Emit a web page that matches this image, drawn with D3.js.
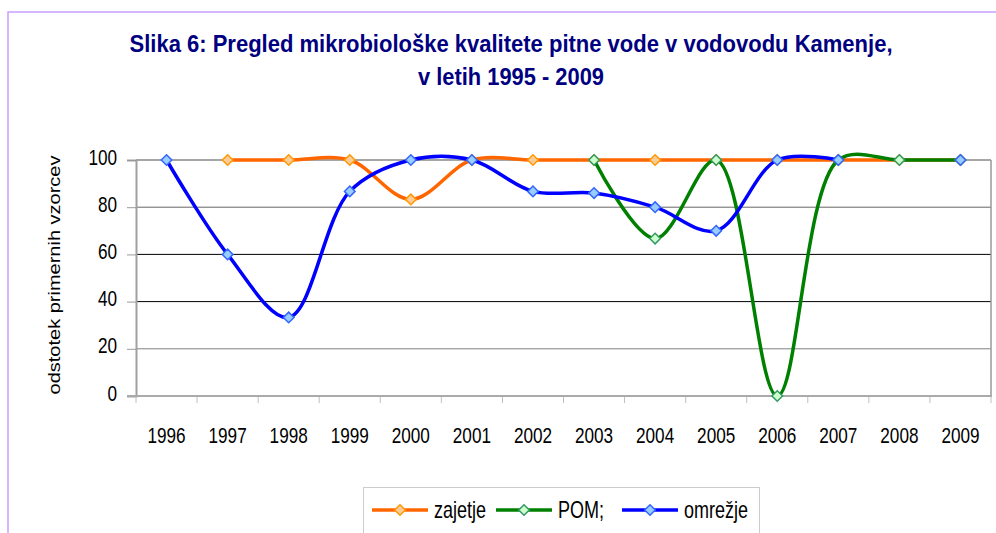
<!DOCTYPE html>
<html>
<head>
<meta charset="utf-8">
<script src="https://cdn.jsdelivr.net/npm/d3@7"></script>
<style>
  body { margin: 0; background: #fff; }
  svg { display: block; font-family: "Liberation Sans", Arial, sans-serif; }
</style>
</head>
<body>
<svg id="chart"></svg>
<script>
// dati (null = manca il valore)
var years   = ["1996","1997","1998","1999","2000","2001","2002","2003","2004","2005","2006","2007","2008","2009"];
var zajetje = [null, 100, 100, 100, 83.3, 100, 100, 100, 100, 100, 100, 100, 100, 100];
var pom     = [null, null, null, null, null, null, null, 100, 66.7, 100, 0, 100, 100, 100];
var omrezje = [100, 60, 33.3, 86.7, 100, 100, 86.7, 86, 80, 70, 100, 100, null, 100];
var yTicks  = [0, 20, 40, 60, 80, 100];
var seriesNames = ["zajetje", "POM;", "omrežje"];

var titleLines = ["Slika 6: Pregled mikrobiološke kvalitete pitne vode v vodovodu Kamenje,",
                  "v letih 1995 - 2009"];
var yTitle = "odstotek primernih vzorcev";

// stile delle serie
var stili = [
  { line: "#ff6600", fill: "#ffcc99", stroke: "#ff9900" },
  { line: "#008000", fill: "#ccffcc", stroke: "#339966" },
  { line: "#0000ff", fill: "#99ccff", stroke: "#3366ff" }
];
var allSeries = [zajetje, pom, omrezje];

var W = 996, H = 533;
var sq = 0.78; // compressione orizzontale del testo (sembra Arial Narrow)
var plot = { left: 136, right: 991, top: 160, bottom: 396 };

var svg = d3.select("#chart").attr("width", W).attr("height", H);

// cornice viola
svg.append("path")
  .attr("d", "M8,533 L8,12 L996,12")
  .attr("fill", "none")
  .attr("stroke", "#c9a0ff")
  .attr("stroke-width", 1.5);

// titolo
var titleW = [763, 186];
titleLines.forEach(function(t, i) {
  svg.append("text")
    .attr("x", 511).attr("y", 52 + i * 33)
    .attr("text-anchor", "middle")
    .attr("textLength", titleW[i])
    .attr("lengthAdjust", "spacingAndGlyphs")
    .style("font-size", "24px")
    .style("font-weight", "bold")
    .style("fill", "#000080")
    .text(t);
});

// scale
var x = d3.scaleBand().domain(years).range([plot.left, plot.right]);
var y = d3.scaleLinear().domain([0, 100]).range([plot.bottom, plot.top]);
function cx(i) { return x(years[i]) + x.bandwidth() / 2; }

// griglia orizzontale (40 e 60 piu' scure come nell'originale)
var gridCol = { 20: "#808080", 40: "#000", 60: "#000", 80: "#666", 100: "#888" };
svg.append("g").selectAll("line")
  .data(yTicks.filter(function(v) { return v > 0; }))
  .enter().append("line")
  .attr("x1", plot.left).attr("x2", plot.right)
  .attr("y1", function(d) { return y(d); })
  .attr("y2", function(d) { return y(d); })
  .attr("stroke", function(d) { return gridCol[d]; })
  .attr("stroke-width", function(d) { return d === 100 ? 1.5 : 1; });

// bordo destro
svg.append("line")
  .attr("x1", plot.right).attr("x2", plot.right)
  .attr("y1", plot.top).attr("y2", plot.bottom)
  .attr("stroke", "#999").attr("stroke-width", 1.5);

// asse y
var yAxis = svg.append("g")
  .attr("transform", "translate(" + plot.left + ",0)")
  .call(d3.axisLeft(y).tickValues(yTicks).tickSize(9).tickPadding(0));
yAxis.select(".domain").attr("stroke", "#a0a0a0").attr("stroke-width", 2);
yAxis.selectAll(".tick line").attr("stroke", "#999");
yAxis.selectAll(".tick text")
  .attr("x", 0).attr("dy", null).attr("y", 4)
  .attr("transform", "translate(-19,0) scale(" + sq + ",1)")
  .attr("text-anchor", "end")
  .style("font-size", "22px")
  .style("font-family", "Liberation Sans, Arial, sans-serif")
  .attr("fill", "#000");

// asse x: tacche ai bordi delle bande, etichette al centro
var xAxis = svg.append("g")
  .attr("transform", "translate(0," + plot.bottom + ")")
  .call(d3.axisBottom(x).tickSize(0).tickPadding(0));
xAxis.select(".domain").remove();
xAxis.selectAll(".tick text")
  .attr("y", 0).attr("dy", null)
  .attr("transform", "translate(0,47) scale(" + sq + ",1)")
  .style("font-size", "22px")
  .style("font-family", "Liberation Sans, Arial, sans-serif")
  .attr("fill", "#000");

var bordi = years.map(function(d) { return x(d); }).concat([plot.right]);
svg.append("g").selectAll("line")
  .data(bordi)
  .enter().append("line")
  .attr("x1", function(d) { return d; }).attr("x2", function(d) { return d; })
  .attr("y1", plot.bottom).attr("y2", plot.bottom + 7)
  .attr("stroke", "#c0c0c0");

svg.append("line")
  .attr("x1", plot.left - 9).attr("x2", plot.right + 1)
  .attr("y1", plot.bottom).attr("y2", plot.bottom)
  .attr("stroke", "#aaa").attr("stroke-width", 2);

// titolo asse y
svg.append("text")
  .attr("transform", "translate(60,275) scale(0.85,1) rotate(-90)")
  .attr("text-anchor", "middle")
  .style("font-size", "20px")
  .text(yTitle);

// linee morbide (centripeta: meno sovraelongazione, piu' vicina a Excel)
var diamond = d3.symbol().type(d3.symbolDiamond2).size(72);
var linea = d3.line()
  .defined(function(d) { return d != null; })
  .x(function(d, i) { return cx(i); })
  .y(function(d) { return y(d); })
  .curve(d3.curveCatmullRom.alpha(0.5));

allSeries.forEach(function(vals, s) {
  var g = svg.append("g");
  g.append("path")
    .datum(vals)
    .attr("d", linea)
    .attr("fill", "none")
    .attr("stroke", stili[s].line)
    .attr("stroke-width", 3.5)
    .attr("stroke-linejoin", "round");

  g.selectAll("path.marker")
    .data(vals.map(function(v, i) { return { v: v, i: i }; })
              .filter(function(d) { return d.v != null; }))
    .enter().append("path")
    .attr("class", "marker")
    .attr("d", diamond)
    .attr("transform", function(d) { return "translate(" + cx(d.i) + "," + y(d.v) + ")"; })
    .attr("fill", stili[s].fill)
    .attr("stroke", stili[s].stroke)
    .attr("stroke-width", 1.5);
});

// legenda
svg.append("rect")
  .attr("x", 363.5).attr("y", 487.5)
  .attr("width", 396).attr("height", 60)
  .attr("fill", "#fff")
  .attr("stroke", "#ccc");

var legX = [372, 496, 622];
seriesNames.forEach(function(n, s) {
  var lg = svg.append("g").attr("transform", "translate(" + legX[s] + ",510)");
  lg.append("line")
    .attr("x1", 0).attr("x2", 56)
    .attr("stroke", stili[s].line).attr("stroke-width", 3.5);
  lg.append("path")
    .attr("d", diamond)
    .attr("transform", "translate(28,0)")
    .attr("fill", stili[s].fill)
    .attr("stroke", stili[s].stroke)
    .attr("stroke-width", 1.5);
  lg.append("text")
    .attr("transform", "translate(62,8) scale(0.75,1)")
    .style("font-size", "24px")
    .text(n);
});
</script>
</body>
</html>
